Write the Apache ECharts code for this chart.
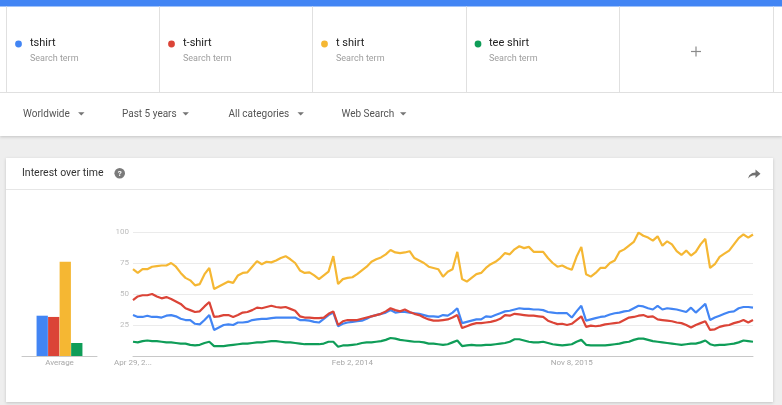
<!DOCTYPE html>
<html><head><meta charset="utf-8">
<script src="https://cdn.jsdelivr.net/npm/echarts@6/dist/echarts.min.js"></script>
<style>html,body{margin:0;padding:0;background:#eeeeee;}#c{width:782px;height:405px;}</style>
</head><body><div id="c"></div>
<script>
// ---- data ----
const terms = ['tshirt', 't-shirt', 't shirt', 'tee shirt'];
const termColors = ['#4285f4', '#db4437', '#f5b733', '#0f9d58'];
const filters = ['Worldwide', 'Past 5 years', 'All categories', 'Web Search'];
const tickIndex = [0, 46, 92];
const tickLabels = ['Apr 29, 2...', 'Feb 2, 2014', 'Nov 8, 2015'];
const avgCategory = ['Average'];
const averages = [32.5, 31.5, 76, 10.5];

const tshirt = [
 33,31.5,31.5,32.5,31.5,31.5,31,32.5,33,32,
 30,29,29,26,25.5,29,33,21,23,25,
 25.5,25,27,27,27.5,29,29.5,30,30,30.5,
 31,31,31,31,31,29,29,28.5,27.5,27,
 30,33,35,24,26,27,27.5,28,28.5,30,
 32,33,34,35,37,35,35.5,35.5,35,34.5,
 34,33,32,32,31.5,33,32.5,35,38.5,26.5,
 27.5,28.5,29.5,29.5,32,31.5,33,34.5,36,36.5,
 37.5,38.5,38,38,37.5,37.5,37,35.5,35,34.5,
 34.5,34.5,31,36,40.5,28.5,29.5,30.5,31.5,32,
 33.5,34.5,35,36,36.5,38.5,40.5,40,38.5,37.5,
 40.5,37.5,38.5,38,37.5,36.5,35.5,39,35,38.5,
 42,29,31,32.5,34,35.5,36,38.5,39.5,39.5,39];
const tDashShirt = [
 45,48,49,49,50,48,46.5,47.5,46,44,
 42,38.5,37,35.5,36,40,43.5,31.5,32,33,
 33,31.5,33,35,35.5,37,39,38.5,39.5,40.5,
 39.5,39,39.5,38,36.5,32,31,31,30.5,30.5,
 31,34,36,25,28,29,29,29,30,31,
 32,33,34,36,38.5,37,36,37.5,35.5,34,
 33,31,29.5,28.5,28.5,29,29.5,31,33,22.5,
 24,25.5,26.5,26.5,27,27.5,28.5,30,33,32.5,
 34,33.5,33,32.5,32.5,32,31.5,28.5,27,25.7,
 26,25,26,29,32,23.5,24.5,24,24.5,25.5,
 26,26.5,27,29,31,31.5,32.5,33,31.5,32,
 29.5,29,28.5,28,27,26.5,25,23,25,26.5,
 28,21,21.5,23.5,24.5,25,26.5,27.5,29,27,29];
const tSpaceShirt = [
 70,67,70,70,72,72.5,73,73,75,72,
 67,63,61,57,58,66,71,54,56,58,
 60,59,65,67,67.5,72,76.5,74,76,75.5,
 77,79,80.5,78,75,69,67,67.5,65,62,
 65,68,80.5,58,62,63,63.5,66,69,72,
 76,78,79.5,82,85.5,83.5,83,83.5,84.5,79,
 77,75,72,71,70,64,68,70,84,62,
 60,63,66,67,71,74,76,79,83,82,
 86,88.5,87,88,84,84,84,79,75,72,
 73,71,69.5,80,88,66,64,67,71,71,
 75,77,84,86,89,92,99.5,97,95.5,93,
 96.5,89,92.5,90,84.5,81.5,85,81,84,90,
 94.5,71,74,80,82.5,85,90,95,98,95.5,98];
const teeShirt = [
 11.5,11,12,12.5,12,12,11.5,11,11,10.5,
 10,10,9,8.5,9,10.5,11.5,8,8,8,
 8.5,9,9.5,10,10,10.5,11,11,11.5,12,
 12,11.5,11,11,10.5,10,9.5,9.5,9.5,9.5,
 10,11.5,11.5,7.5,8.5,8.5,9,9.5,10.5,11,
 11,11.5,12,13,14.5,14,13,12.5,12,11.5,
 11.5,11,10,10,9.5,9,9.5,11,12.5,8,
 8.5,9,8.5,8.5,9,9,9.5,10,10.5,11.5,
 13.5,13.5,12.5,11.5,11,11,11.5,10.5,9.5,9,
 8.5,9,9.5,11.5,13,9,8.5,8.5,8.5,8.5,
 9,9.5,10,11,11.5,13,14,14,13,12,
 11.5,11,10.5,10,9.5,9,9.5,10,10,11,
 12.5,9.5,8.5,9,9,9.5,10,11,12.5,12,11.5];
const seriesValues = [tshirt, tDashShirt, tSpaceShirt, teeShirt];

// biweekly dates starting Apr 29, 2012
const monthNames = ['Jan','Feb','Mar','Apr','May','Jun','Jul','Aug','Sep','Oct','Nov','Dec'];
const categories = [];
for (let i = 0; i < tshirt.length; i++) {
  const d = new Date(Date.UTC(2012, 3, 29 + 14 * i));
  categories.push(monthNames[d.getUTCMonth()] + ' ' + d.getUTCDate() + ', ' + d.getUTCFullYear());
}

// ---- page decoration (graphic) ----
const F = 'Roboto, "Noto Sans", sans-serif';
const g = [];
g.push({type:'rect', z:-10, shape:{x:0,y:0,width:782,height:136}, style:{fill:'#ffffff', shadowBlur:3, shadowColor:'rgba(0,0,0,0.18)', shadowOffsetY:1}});
g.push({type:'rect', z:-9, shape:{x:0,y:0,width:782,height:6.5}, style:{fill:'#4285f4'}});
g.push({type:'line', z:-8, shape:{x1:0,y1:92.5,x2:782,y2:92.5}, style:{stroke:'#e0e0e0', lineWidth:1}});
[6.5,159.5,312.5,466.5,619.5,773.5].forEach(x=>{
  g.push({type:'line', z:-8, shape:{x1:x,y1:6.5,x2:x,y2:92.5}, style:{stroke:'#e0e0e0', lineWidth:1}});
});
const termX = [30, 183, 336, 489];
const dotX = [18.5, 171.5, 324.5, 478];
terms.forEach((t,k)=>{
  g.push({type:'circle', z:5, shape:{cx:dotX[k], cy:44, r:3.4}, style:{fill:termColors[k]}});
  g.push({type:'text', z:5, style:{x:termX[k], y:43, text:t, font:'11px '+F, fill:'#222222', textVerticalAlign:'middle'}});
  g.push({type:'text', z:5, style:{x:termX[k], y:58.5, text:'Search term', font:'9px '+F, fill:'#9e9e9e', textVerticalAlign:'middle'}});
});
g.push({type:'line', z:5, shape:{x1:691,y1:51.5,x2:701,y2:51.5}, style:{stroke:'#8a8a8a', lineWidth:1.2}});
g.push({type:'line', z:5, shape:{x1:696,y1:46.5,x2:696,y2:56.5}, style:{stroke:'#8a8a8a', lineWidth:1.2}});
const filterX = [23, 122, 228.5, 341.5];
const triX = [81.3, 185.7, 300.7, 403.2];
filters.forEach((t,k)=>{
  g.push({type:'text', z:5, style:{x:filterX[k], y:114, text:t, font:'10px '+F, fill:'#555555', textVerticalAlign:'middle'}});
  g.push({type:'polygon', z:5, shape:{points:[[triX[k]-3.2,112.3],[triX[k]+3.2,112.3],[triX[k],115.6]]}, style:{fill:'#757575'}});
});
// card
g.push({type:'rect', z:-10, shape:{x:6,y:158,width:767,height:244}, style:{fill:'#ffffff', shadowBlur:3, shadowColor:'rgba(0,0,0,0.18)', shadowOffsetY:1}});
g.push({type:'line', z:-8, shape:{x1:6,y1:189.5,x2:773,y2:189.5}, style:{stroke:'#e6e6e6', lineWidth:1}});
g.push({type:'text', z:5, style:{x:22, y:173.3, text:'Interest over time', font:'10.5px '+F, fill:'#333333', textVerticalAlign:'middle'}});
g.push({type:'circle', z:5, shape:{cx:119.7, cy:173.3, r:5.3}, style:{fill:'#7a7a7a'}});
g.push({type:'text', z:6, style:{x:119.7, y:173.6, text:'?', font:'bold 8px '+F, fill:'#ffffff', textAlign:'center', textVerticalAlign:'middle'}});
g.push({type:'polygon', z:5, shape:{points:[[748,178.5],[749.3,175.2],[752.2,173],[755.5,172.4],[755.5,169.5],[760.5,173.8],[755.5,178],[755.5,175.3],[752.6,175.5],[750.2,176.6]]}, style:{fill:'#707070'}});

// ---- chart ----
const chart = echarts.init(document.getElementById('c'), null, {renderer:'canvas'});
const lineSeries = seriesValues.map((vals,k)=>({
  name: terms[k], type:'line', xAxisIndex:0, yAxisIndex:0, data: vals,
  showSymbol:false, symbol:'none', smooth:false,
  lineStyle:{color:termColors[k], width:2.2}, itemStyle:{color:termColors[k]},
  z: 3 + (k===2 ? 1 : 0)
}));
const barSeries = averages.map((v,k)=>({
  name: terms[k] + ' avg', type:'bar', xAxisIndex:1, yAxisIndex:1, data:[v],
  barWidth:11.3, barGap:'2%', itemStyle:{color:termColors[k]}
}));
chart.setOption({
  animation:false,
  backgroundColor:'#eeeeee',
  textStyle:{fontFamily:F},
  graphic:{elements:g},
  grid:[
    {left:133, top:232, width:620, height:124},
    {left:22, top:232, width:75, height:124}
  ],
  xAxis:[
    {type:'category', gridIndex:0, data:categories, boundaryGap:false,
     axisLine:{lineStyle:{color:'#c8c8c8', width:1}}, axisTick:{show:false},
     splitLine:{show:false},
     axisLabel:{interval:(i)=>tickIndex.includes(i), formatter:(v,i)=>tickLabels[tickIndex.indexOf(i)] || '',
       color:'#a8a8a8', fontSize:8, fontFamily:F, margin:3, hideOverlap:false}},
    {type:'category', gridIndex:1, data:avgCategory,
     axisLine:{lineStyle:{color:'#c8c8c8', width:1}}, axisTick:{show:false},
     axisLabel:{color:'#a8a8a8', fontSize:8, fontFamily:F, margin:3}}
  ],
  yAxis:[
    {type:'value', gridIndex:0, min:0, max:100, interval:25,
     axisLine:{show:false}, axisTick:{show:false},
     splitLine:{lineStyle:{color:'#ebebeb', width:1}},
     axisLabel:{color:'#bdbdbd', fontSize:8, fontFamily:F, margin:4, showMinLabel:false}},
    {type:'value', gridIndex:1, min:0, max:100, show:false}
  ],
  series: lineSeries.concat(barSeries)
});
</script></body></html>
